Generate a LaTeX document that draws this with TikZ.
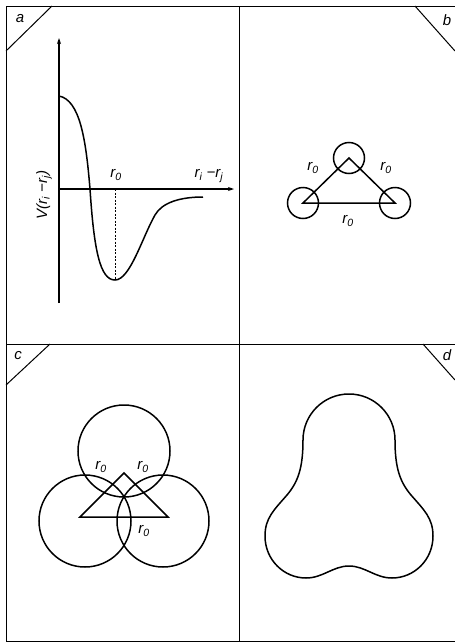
\documentclass[tikz,border=0pt]{standalone}
\usepackage{fontspec}
\setmainfont{Liberation Sans}
\usetikzlibrary{arrows.meta}
\tikzset{
  frameline/.style={line width=1.0pt},
  drawline/.style={line width=1.5pt},
  axisline/.style={line width=1.1pt,-{Stealth[length=6pt,width=4pt]}},
  lab/.style={font=\fontsize{15}{17}\selectfont\itshape, inner sep=0pt},
  corner/.style={font=\fontsize{15}{17}\selectfont\itshape, inner sep=0pt},
}
\newcommand{\rsub}[1]{r\textsubscript{#1}}
\begin{document}
\begin{tikzpicture}[x=1pt,y=-1pt]
\useasboundingbox (0,0) rectangle (455,643);
% frame
\coordinate (TL) at (6,6);
\coordinate (TR) at (455,6);
\coordinate (BL) at (6,641);
\coordinate (BR) at (455,641);
\coordinate (MT) at (239,6);
\coordinate (MB) at (239,641);
\coordinate (ML) at (6,344);
\coordinate (MR) at (455,344);
\draw[frameline] (TR) -- (TL) -- (BL) -- (BR);
\draw[frameline] (MT) -- (MB);
\draw[frameline] (ML) -- (MR);
% corner tags
\coordinate (ca1) at (52,6);   \coordinate (ca2) at (6,51);
\coordinate (cb1) at (415,6);  \coordinate (cb2) at (455,51);
\coordinate (cc1) at (50,344); \coordinate (cc2) at (6,385);
\coordinate (cd1) at (423,344);\coordinate (cd2) at (455,380);
\draw[frameline] (ca1) -- (ca2);
\draw[frameline] (cb1) -- (cb2);
\draw[frameline] (cc1) -- (cc2);
\draw[frameline] (cd1) -- (cd2);
\node[corner] (la) at (20,19) {a};
\node[corner] (lb) at (447,20) {b};
\node[corner] (lc) at (18,356) {c};
\node[corner] (ld) at (447,355) {d};
% panel a
\coordinate (Ybot) at (59,303);
\coordinate (Ytop) at (59,38);
\coordinate (O) at (59,189);
\coordinate (Xend) at (234,189);
\coordinate (Mn) at (115,280);
\coordinate (MnAx) at (115,189);
\draw[axisline] (Ybot) -- (Ytop);
\draw[axisline] (O) -- (Xend);
\draw[drawline] (59,96) .. controls (80,100) and (86,140) .. (90,189)
  .. controls (94,250) and (100,280) .. (Mn)
  .. controls (130,280) and (142,238) .. (155,215)
  .. controls (162,202.6) and (180,197) .. (203,197);
\draw[line width=0.7pt, dashed, dash pattern=on 2pt off 1.5pt] (MnAx) -- (Mn);
\node[lab] (r0a) at (116,175) {\rsub{0}};
\node[lab] (rij) at (209,176) {\rsub{i} −\rsub{j}};
\node[lab, rotate=90] (Vlab) at (44,195) {V(\rsub{i} −\rsub{j})};
% panel b
\coordinate (b1) at (303,203);
\coordinate (b2) at (395,203);
\coordinate (b3) at (349,158);
\draw[drawline] (b1) -- (b2) -- (b3) -- cycle;
\draw[drawline] (b1) circle[radius=15.5];
\draw[drawline] (b2) circle[radius=15.5];
\draw[drawline] (b3) circle[radius=15.5];
\node[lab] (rb1) at (313,168) {\rsub{0}};
\node[lab] (rb2) at (386,168) {\rsub{0}};
\node[lab] (rb3) at (348,221) {\rsub{0}};
% panel c
\coordinate (c1) at (85,521);
\coordinate (c2) at (163,521);
\coordinate (c3) at (124,451);
\coordinate (t1) at (80,517);
\coordinate (t2) at (168,517);
\coordinate (t3) at (124,473);
\draw[drawline] (c1) circle[radius=46];
\draw[drawline] (c2) circle[radius=46];
\draw[drawline] (c3) circle[radius=46];
\draw[drawline] (t1) -- (t2) -- (t3) -- cycle;
\node[lab] (rc1) at (101,467) {\rsub{0}};
\node[lab] (rc2) at (143,467) {\rsub{0}};
\node[lab] (rc3) at (144,531) {\rsub{0}};
% panel d
\draw[drawline] (349,394)
  .. controls (374.4,394) and (395,414.6) .. (395,440)
  .. controls (395,468) and (400,482) .. (411,495)
  .. controls (424,510) and (433,518) .. (433,536)
  .. controls (433,560) and (414,578) .. (392,578)
  .. controls (375,578) and (365,566) .. (349,566)
  .. controls (333,566) and (323,578) .. (306,578)
  .. controls (284,578) and (265,560) .. (265,536)
  .. controls (265,518) and (274,510) .. (287,495)
  .. controls (298,482) and (303,468) .. (303,440)
  .. controls (303,414.6) and (323.6,394) .. (349,394) -- cycle;
\end{tikzpicture}
\end{document}
